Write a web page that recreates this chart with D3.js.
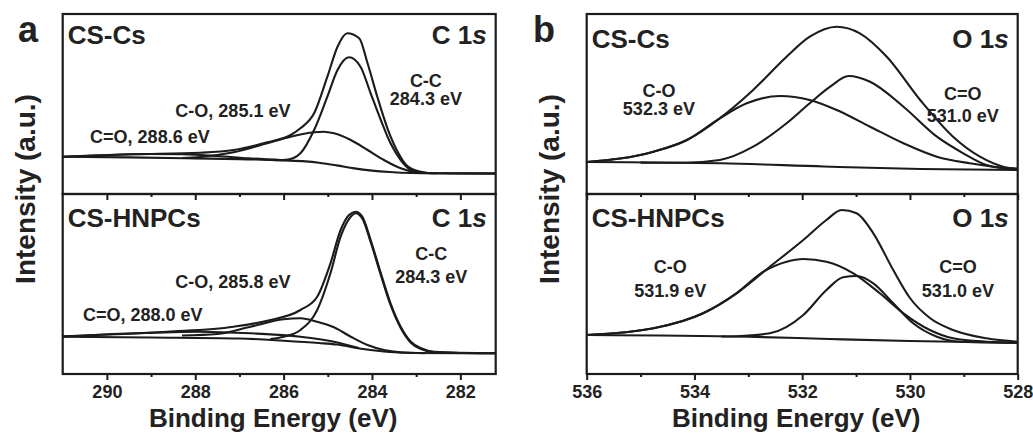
<!DOCTYPE html>
<html>
<head>
<meta charset="utf-8">
<script src="https://d3js.org/d3.v7.min.js"></script>
<style>
  body { margin: 0; background: #fff; }
  text { font-family: "Liberation Sans", Arial, sans-serif; font-weight: bold; fill: #222; }
</style>
</head>
<body>
<svg id="chart" width="1033" height="434"></svg>
<script>
// ---- data: [binding energy (eV), intensity (a.u.)] ----
// C 1s, CS-Cs
var c1sCsBackground = [[291.0,37.3],[289.5,36.6],[288.0,35.6],[287.0,34.9],[286.0,33.6],[285.5,32.6],[285.2,31.2],[284.8,28.6],[284.4,25.6],[284.0,23.4],[283.6,22],[283.1,21],[282.5,20.7],[281.2,20.6]];
var c1sCsCC = [[286.2,33.8],[285.9,34.5],[285.62,40.7],[285.31,64],[285.01,97.3],[284.78,124],[284.52,136.7],[284.26,127.3],[284.03,100.7],[283.80,74],[283.58,50.7],[283.35,34],[283.12,24],[282.89,21.3],[282.5,20.7]];
var c1sCsCO = [[288.3,36],[287.89,37],[287.13,41.7],[286.37,50.7],[285.84,57.3],[285.31,61.7],[285.09,62.3],[284.86,60.7],[284.48,54],[284.10,44],[283.73,34],[283.35,25.7],[283.04,22],[282.59,20.7]];
var c1sCsCdO = [[291.0,37.3],[290.2,38.7],[289.1,40],[288.3,39.7],[287.5,38],[286.8,35.7],[286.0,33.8]];
var c1sCsEnvelope = [[291.0,37.3],[289.4,39.7],[287.89,41.3],[287.13,44],[286.37,51.7],[285.84,59],[285.62,65.7],[285.31,80.7],[285.01,117.3],[284.78,147.3],[284.56,160.7],[284.29,155.7],[284.10,130.7],[283.88,97.3],[283.65,65.7],[283.42,42.3],[283.20,28],[282.89,22.3],[282.59,20.7],[281.2,20.4]];

// C 1s, CS-HNPCs
var c1sHnBackground = [[291.0,37.3],[289.0,36.5],[287.0,35.5],[286.0,33.3],[285.2,31],[284.8,29.5],[284.2,25],[283.6,22],[283.0,21],[282.0,20.7],[281.2,20.7]];
var c1sHnCC = [[286.3,35],[286.0,37.3],[285.62,44],[285.24,64],[284.94,100.7],[284.71,137.3],[284.48,157.3],[284.37,160.7],[284.22,155.5],[284.03,132],[283.80,99],[283.58,69],[283.35,46],[283.12,31.3],[282.89,25],[282.59,21.8],[281.2,20.7]];
var c1sHnCO = [[288.3,38.5],[287.5,40],[286.75,47.3],[286.0,54.7],[285.62,55.7],[285.24,52.3],[284.86,46.7],[284.48,37.3],[284.10,29],[283.73,24],[283.35,21.7],[282.8,20.8]];
var c1sHnCdO = [[291.0,37.3],[289.4,40.7],[287.89,42.3],[286.75,40.7],[285.62,37.3],[284.86,32.3],[284.3,26]];
var c1sHnEnvelope = [[291.0,37.8],[288.64,42.3],[287.13,47.3],[286.37,53.3],[285.62,64],[285.24,77.3],[284.94,110.7],[284.71,144],[284.52,159],[284.37,162.3],[284.22,157.3],[284.03,134],[283.80,100.7],[283.58,70.7],[283.35,47.3],[283.12,32.3],[282.89,25.7],[282.59,22.3],[281.2,20.7]];

// O 1s, CS-Cs
var o1sCsBackground = [[536.0,32],[533.5,30.7],[531.6,27.5],[529.8,25],[528.0,24]];
var o1sCsCO = [[536.0,32],[534.76,42.3],[534.14,54],[533.53,75.7],[533.03,90.7],[532.41,98],[531.86,94],[531.36,84],[530.74,67.3],[530.12,50.7],[529.50,37.3],[528.89,30.7],[528.45,27.3],[528.0,25.5]];
var o1sCsCdO = [[535.0,31.4],[534.2,31.2],[533.53,34],[532.91,47.3],[532.29,70.7],[531.86,90.7],[531.48,107.3],[531.14,118],[530.74,112.3],[530.12,87.3],[529.50,57.3],[529.01,40.7],[528.58,29],[528.27,25.7],[528.0,24.5]];
var o1sCsEnvelope = [[536.0,32],[534.76,42.3],[534.14,54],[533.53,75.7],[532.91,104],[532.29,137.3],[531.86,157.3],[531.36,167.3],[530.93,160.7],[530.43,137.3],[529.81,94],[529.20,57.3],[528.70,37.3],[528.27,27.3],[528.0,24.7]];

// O 1s, CS-HNPCs
var o1sHnBackground = [[536.0,39],[533.0,37.3],[531.5,35],[530.0,33],[528.0,31.3]];
var o1sHnCO = [[536.0,39],[534.76,45.7],[533.84,60.7],[533.22,80.7],[532.72,102.3],[532.29,112.3],[531.98,115],[531.55,112.3],[531.05,100.7],[530.56,80.7],[530.12,60.7],[529.63,44],[529.20,35.7],[528.58,32.3],[528.0,31.3]];
var o1sHnCdO = [[533.5,37.5],[533.22,37.8],[532.60,40.7],[531.98,59],[531.55,84],[531.24,96.7],[530.99,98],[530.68,90.7],[530.31,70.7],[529.94,50.7],[529.50,37.3],[529.07,32.3],[528.0,31.3]];
var o1sHnEnvelope = [[536.0,39],[534.76,45.7],[533.84,60.7],[533.22,80.7],[532.60,107.3],[531.98,134],[531.55,154],[531.27,164],[530.99,160.7],[530.68,140.7],[530.31,104],[530.0,76],[529.63,56],[529.20,44],[528.58,35.7],[528.0,32.3]];

// axis ticks
var c1sMajorTicks = [290, 288, 286, 284, 282];
var c1sMinorTicks = [289, 287, 285, 283];
var o1sMajorTicks = [536, 534, 532, 530, 528];
var o1sMinorTicks = [535, 533, 531, 529];

var svg = d3.select('#chart');
var ink = '#1b1b1b';

function drawPanel(cfg) {
    var x = d3.scaleLinear().domain(cfg.domain).range([cfg.left, cfg.right]);
    var midY = cfg.top + cfg.subH;
    var botY = cfg.top + 2 * cfg.subH;

    cfg.subs.forEach(function(sub, i) {
        var top = cfg.top + i * cfg.subH;
        var y = d3.scaleLinear().domain([0, 180]).range([top + cfg.subH, top]);
        var line = d3.line()
            .x(function(d) { return x(d[0]); })
            .y(function(d) { return y(d[1]); })
            .curve(d3.curveMonotoneX);

        var g = svg.append('g');
        g.selectAll('path.curve')
            .data(sub.curves)
            .enter()
            .append('path')
            .attr('class', 'curve')
            .attr('d', line)
            .attr('fill', 'none')
            .attr('stroke', ink)
            .attr('stroke-width', 2.1)
            .attr('stroke-linejoin', 'round');

        // box of this sub-panel (the shared edge gives the divider)
        g.append('rect')
            .attr('x', cfg.left).attr('y', top)
            .attr('width', cfg.right - cfg.left).attr('height', cfg.subH)
            .attr('fill', 'none').attr('stroke', ink).attr('stroke-width', 2.2);

        g.append('text')
            .attr('x', cfg.left + 5)
            .attr('y', top + sub.titleY)
            .attr('font-size', 26)
            .text(sub.name);

        var core = g.append('text')
            .attr('x', cfg.right - 9)
            .attr('y', top + sub.titleY)
            .attr('font-size', 26)
            .attr('text-anchor', 'end');
        core.append('tspan').text(cfg.core + ' 1');
        core.append('tspan').attr('font-style', 'italic').text('s');

        sub.notes.forEach(function(n) {
            g.append('text')
                .attr('x', x(n.at[0]))
                .attr('y', y(n.at[1]))
                .attr('font-size', 18)
                .attr('text-anchor', n.anchor)
                .text(n.text);
        });
    });

    // ticks on the divider and bottom
    [midY, botY].forEach(function(yy, k) {
        var ax = svg.append('g').attr('transform', 'translate(0,' + yy + ')');
        ax.call(d3.axisBottom(x).tickValues(cfg.minor).tickSize(3).tickFormat(''));
        var maj = svg.append('g').attr('transform', 'translate(0,' + yy + ')');
        maj.call(d3.axisBottom(x).tickValues(cfg.major).tickSize(6).tickPadding(5)
            .tickFormat(k === 1 ? d3.format('d') : ''));
        ax.select('.domain').remove();
        maj.select('.domain').remove();
        maj.selectAll('text').attr('font-size', 18).attr('fill', '#222')
            .style('font-family', '"Liberation Sans", Arial, sans-serif');
    });
    svg.selectAll('.tick line').attr('stroke', ink).attr('stroke-width', 2);

    svg.append('text')
        .attr('x', (cfg.left + cfg.right) / 2 - 6)
        .attr('y', 427)
        .attr('font-size', 26)
        .attr('text-anchor', 'middle')
        .text('Binding Energy (eV)');

    svg.append('text')
        .attr('transform', 'translate(' + (cfg.left - 28) + ',' + (cfg.top + cfg.subH - 5) + ') rotate(-90)')
        .attr('font-size', 28)
        .attr('text-anchor', 'middle')
        .text('Intensity (a.u.)');

    svg.append('text')
        .attr('x', cfg.letterX)
        .attr('y', 42)
        .attr('font-size', 36)
        .text(cfg.letter);
}

drawPanel({
    letter: 'a', letterX: 18, core: 'C',
    left: 62.7, right: 495.7, top: 14, subH: 180,
    domain: [291.0, 281.2], major: c1sMajorTicks, minor: c1sMinorTicks,
    subs: [
        { name: 'CS-Cs', titleY: 30,
          curves: [c1sCsBackground, c1sCsCdO, c1sCsCO, c1sCsCC, c1sCsEnvelope],
          notes: [
              { text: 'C-C', at: [282.78, 107], anchor: 'middle' },
              { text: '284.3 eV', at: [282.78, 89], anchor: 'middle' },
              { text: 'C-O, 285.1 eV', at: [288.45, 77], anchor: 'start' },
              { text: 'C=O, 288.6 eV', at: [290.38, 51], anchor: 'start' }
          ] },
        { name: 'CS-HNPCs', titleY: 33,
          curves: [c1sHnBackground, c1sHnCdO, c1sHnCO, c1sHnCC, c1sHnEnvelope],
          notes: [
              { text: 'C-C', at: [282.66, 114], anchor: 'middle' },
              { text: '284.3 eV', at: [282.66, 91], anchor: 'middle' },
              { text: 'C-O, 285.8 eV', at: [288.45, 86], anchor: 'start' },
              { text: 'C=O, 288.0 eV', at: [290.54, 53], anchor: 'start' }
          ] }
    ]
});

drawPanel({
    letter: 'b', letterX: 533, core: 'O',
    left: 586.7, right: 1017.7, top: 14, subH: 180,
    domain: [536, 528], major: o1sMajorTicks, minor: o1sMinorTicks,
    subs: [
        { name: 'CS-Cs', titleY: 34,
          curves: [o1sCsBackground, o1sCsCO, o1sCsCdO, o1sCsEnvelope],
          notes: [
              { text: 'C-O', at: [534.66, 97], anchor: 'middle' },
              { text: '532.3 eV', at: [534.66, 79], anchor: 'middle' },
              { text: 'C=O', at: [529.02, 94], anchor: 'middle' },
              { text: '531.0 eV', at: [529.02, 72], anchor: 'middle' }
          ] },
        { name: 'CS-HNPCs', titleY: 33,
          curves: [o1sHnBackground, o1sHnCO, o1sHnCdO, o1sHnEnvelope],
          notes: [
              { text: 'C-O', at: [534.45, 101], anchor: 'middle' },
              { text: '531.9 eV', at: [534.45, 77], anchor: 'middle' },
              { text: 'C=O', at: [529.11, 101], anchor: 'middle' },
              { text: '531.0 eV', at: [529.11, 77], anchor: 'middle' }
          ] }
    ]
});
</script>
</body>
</html>
